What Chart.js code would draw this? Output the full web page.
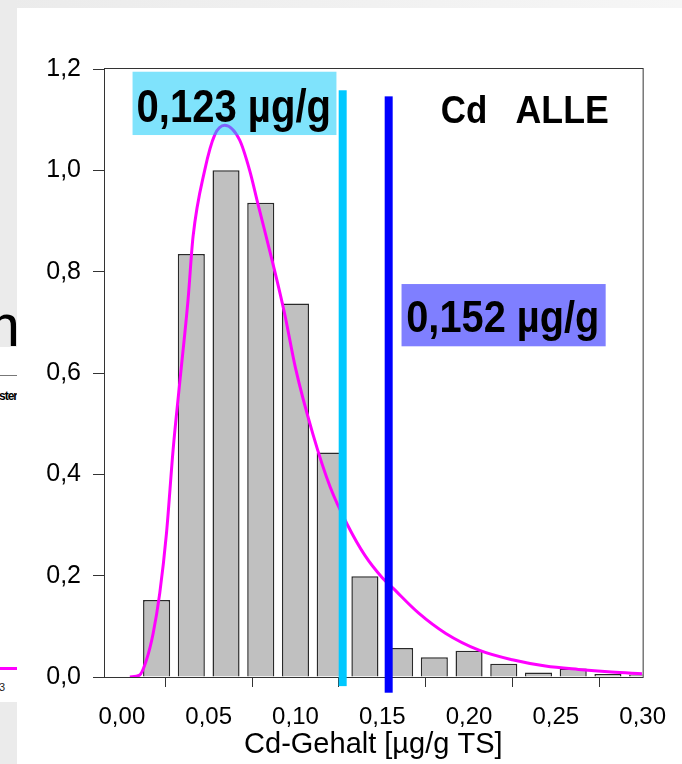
<!DOCTYPE html>
<html><head><meta charset="utf-8">
<script src="https://cdn.jsdelivr.net/npm/chart.js@4.4.1/dist/chart.umd.min.js"></script>
<style>
html,body{margin:0;padding:0;width:682px;height:764px;overflow:hidden;background:#fff;}
#topband{position:absolute;left:0;top:0;width:682px;height:8px;background:linear-gradient(to right,#ebebeb,#f6f6f6);}
#strip{position:absolute;left:0;top:0;width:17px;height:764px;overflow:hidden;}
.g{position:absolute;left:0;width:17px;background:#ebebeb;}
#mm{position:absolute;left:-30px;top:296px;font:60px/60px "Liberation Sans",Arial,sans-serif;color:#000;white-space:nowrap;}
#gl{position:absolute;left:0;top:375px;width:17px;height:1px;background:#777;}
#st{position:absolute;right:0;top:389px;font:bold 12px/14px "Liberation Sans",Arial,sans-serif;letter-spacing:-1px;color:#000;white-space:nowrap;}
#ml{position:absolute;left:0;top:667px;width:17px;height:3px;background:#ff00ff;}
#n3{position:absolute;left:-1px;top:681px;font:11px/13px "Liberation Sans",Arial,sans-serif;color:#222;}
canvas{position:absolute;left:0;top:0;}
</style></head>
<body>
<div id="topband"></div>
<div id="strip">
  <div class="g" style="top:0;height:347px"></div>
  <div class="g" style="top:702px;height:62px"></div>
  <div id="mm">m</div>
  <div id="gl"></div>
  <div id="st">ster</div>
  <div id="ml"></div>
  <div id="n3">3</div>
</div>
<canvas id="c" width="682" height="764"></canvas>
<script>
// ---- data ----
const binCenters = [0.02,0.04,0.06,0.08,0.10,0.12,0.14,0.16,0.18,0.20,0.22,0.24,0.26,0.28,0.30];
const binHeights = [0.152,0.835,1.0,0.936,0.737,0.443,0.199,0.057,0.039,0.052,0.026,0.009,0.017,0.006,0.005];
const curveX = [0.0046,0.0103,0.0142,0.018,0.0218,0.0257,0.0295,0.0333,0.0381,0.041,0.0477,0.0535,0.0592,0.0678,0.0736,0.0783,0.087,0.0937,0.10,0.11,0.12,0.13,0.14,0.15,0.156,0.171,0.1866,0.2057,0.2249,0.244,0.263,0.282,0.2996];
const curveY = [0,0.004,0.034,0.086,0.165,0.284,0.448,0.58,0.744,0.869,1.0,1.07,1.089,1.06,1.0,0.935,0.816,0.718,0.61,0.48,0.375,0.30,0.24,0.196,0.176,0.126,0.086,0.053,0.034,0.0217,0.015,0.0099,0.0065];
const markerValues = [0.1272,0.1537];
const markerLabels = ["0,123 µg/g","0,152 µg/g"];
const titleWords = ["Cd","ALLE"];
const xTickValues = [0,0.05,0.10,0.15,0.20,0.25,0.30];
const yTickValues = [0,0.2,0.4,0.6,0.8,1.0,1.2];
const xTitle = "Cd-Gehalt [µg/g TS]";

const FONT = '"Liberation Sans", Arial, sans-serif';

function squish(ctx, text, left, right, baseline, size){
  ctx.save();
  ctx.font = 'bold ' + size + 'px ' + FONT;
  const w = ctx.measureText(text).width;
  ctx.translate(left, baseline);
  ctx.scale((right-left)/w, 1);
  ctx.textBaseline = 'alphabetic';
  ctx.textAlign = 'left';
  ctx.fillStyle = '#000';
  ctx.fillText(text, 0, 0);
  ctx.restore();
}

const overlay = {
  id: 'overlay',
  beforeDatasetsDraw(chart){
    const {ctx, chartArea:a} = chart;
    ctx.save();
    ctx.strokeStyle = '#333'; ctx.lineWidth = 1;
    ctx.strokeRect(a.left+0.5, a.top-0.5, a.right-a.left, a.bottom-a.top+1);
    ctx.restore();
  },
  afterDatasetsDraw(chart){
    const ctx = chart.ctx, xs = chart.scales.x, ys = chart.scales.y;
    const X = v => xs.getPixelForValue(v), Y = v => ys.getPixelForValue(v);
    // label boxes
    const boxes = [
      {x0:0.00615,x1:0.1236,y0:1.0697,y1:1.1946,c:'rgba(0,200,250,0.5)',tx0:0.0084,tx1:0.1205,ty:1.0959,fs:46,t:markerLabels[0]},
      {x0:0.1611,x1:0.2787,y0:0.6527,y1:0.7756,c:'rgba(0,0,255,0.5)',tx0:0.1638,tx1:0.2751,ty:0.6815,fs:45,t:markerLabels[1]}
    ];
    boxes.forEach(b=>{
      ctx.save(); ctx.fillStyle = b.c;
      ctx.fillRect(X(b.x0), Y(b.y1), X(b.x1)-X(b.x0), Y(b.y0)-Y(b.y1));
      ctx.restore();
      squish(ctx, b.t, X(b.tx0), X(b.tx1), Y(b.ty), b.fs);
    });
    squish(ctx, titleWords[0], X(0.1837), X(0.2105), Y(1.0927), 39.5);
    squish(ctx, titleWords[1], X(0.2268), X(0.2805), Y(1.0927), 39.5);
    // vertical marker lines
    const lines = [
      {v:markerValues[0], y0:-0.018, y1:1.158, c:'#00c8ff'},
      {v:markerValues[1], y0:-0.031, y1:1.146, c:'#0000ff'}
    ];
    lines.forEach(l=>{
      ctx.save(); ctx.fillStyle = l.c;
      const x = X(l.v);
      ctx.fillRect(x-4, Y(l.y1), 8, Y(l.y0)-Y(l.y1));
      ctx.restore();
    });
  }
};

const comma = (v,d) => Number(v).toFixed(d).replace('.', ',');

new Chart(document.getElementById('c'), {
  data: {
    datasets: [
      {
        type: 'line',
        data: curveX.map((x,i)=>({x, y: curveY[i]})),
        borderColor: '#ff00ff', borderWidth: 3, pointRadius: 0,
        cubicInterpolationMode: 'monotone', fill: false, order: 0
      },
      {
        type: 'bar',
        data: binCenters.map((x,i)=>({x, y: binHeights[i]})),
        backgroundColor: '#c0c0c0', borderColor: '#2a2a2a', borderWidth: 1.5,
        barPercentage: 0.78, categoryPercentage: 1.0, order: 1
      }
    ]
  },
  options: {
    responsive: false, animation: false, devicePixelRatio: 1,
    layout: { padding: { left: 0, top: 69, right: 38, bottom: 0 } },
    plugins: { legend: { display: false }, tooltip: { enabled: false } },
    scales: {
      x: {
        type: 'linear', min: -0.0103, max: 0.30, offset: false,
        afterFit: s => { s.height = 87; },
        afterBuildTicks: s => { s.ticks = xTickValues.map(v=>({value:v})); },
        grid: { drawOnChartArea: false, drawTicks: true, tickLength: 10, color: '#333', tickWidth: 1 },
        border: { display: true, color: '#333', width: 1 },
        ticks: { color: '#000', font: { family: FONT, size: 24 }, padding: 16, maxRotation: 0, autoSkip: false,
                 callback: v => comma(v, 2) },
        title: { display: true, text: xTitle, color: '#000', font: { family: FONT, size: 29 }, padding: { top: 0, bottom: 2 } }
      },
      y: {
        type: 'linear', min: 0, max: 1.2,
        afterFit: s => { s.width = 104; },
        afterBuildTicks: s => { s.ticks = yTickValues.map(v=>({value:v})); },
        grid: { drawOnChartArea: false, drawTicks: true, tickLength: 11, color: '#333', tickWidth: 1 },
        border: { display: true, color: '#333', width: 1 },
        ticks: { color: '#000', font: { family: FONT, size: 25 }, padding: 12, autoSkip: false,
                 callback: v => comma(v, 1) }
      }
    }
  },
  plugins: [overlay]
});
</script>
</body></html>
